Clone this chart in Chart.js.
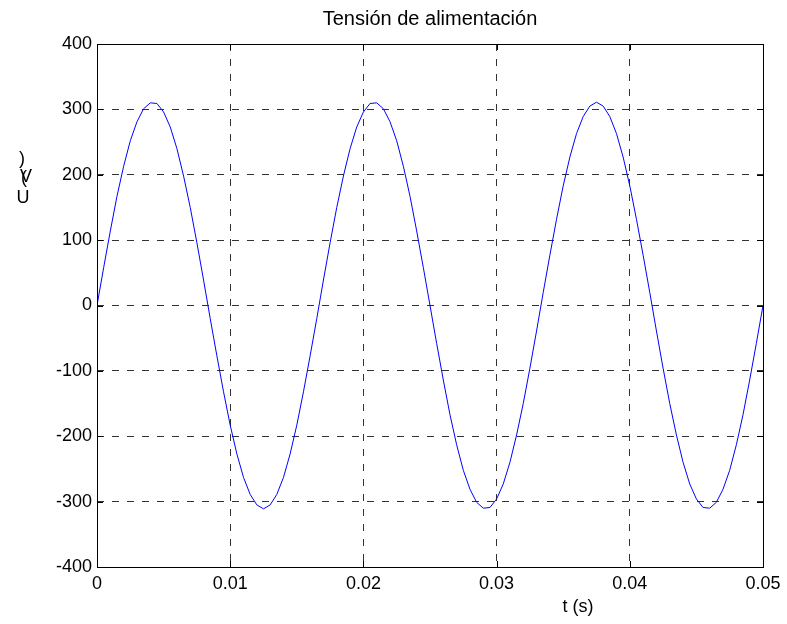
<!DOCTYPE html>
<html>
<head>
<meta charset="utf-8">
<script src="https://cdn.jsdelivr.net/npm/chart.js@4/dist/chart.umd.min.js"></script>
<style>
  html, body { margin: 0; padding: 0; background: #fff; }
  #wrap { width: 787px; height: 624px; }
</style>
</head>
<body>
<div id="wrap"><canvas id="tensionChart" width="787" height="624"></canvas></div>
<script>
// values
const titleText = 'Tensión de alimentación';
const xLabel = 't (s)';
const yLabelChars = ['U', '(', 'V', ')'];

const xTicks = [0, 0.01, 0.02, 0.03, 0.04, 0.05];
const xTickLabels = ['0', '0.01', '0.02', '0.03', '0.04', '0.05'];
const yTicks = [-400, -300, -200, -100, 0, 100, 200, 300, 400];
const yTickLabels = ['-400', '-300', '-200', '-100', '0', '100', '200', '300', '400'];

const times = [
  0, 0.0005, 0.001, 0.0015, 0.002, 0.0025, 0.003, 0.0035, 0.004, 0.0045,
  0.005, 0.0055, 0.006, 0.0065, 0.007, 0.0075, 0.008, 0.0085, 0.009, 0.0095,
  0.01, 0.0105, 0.011, 0.0115, 0.012, 0.0125, 0.013, 0.0135, 0.014, 0.0145,
  0.015, 0.0155, 0.016, 0.0165, 0.017, 0.0175, 0.018, 0.0185, 0.019, 0.0195,
  0.02, 0.0205, 0.021, 0.0215, 0.022, 0.0225, 0.023, 0.0235, 0.024, 0.0245,
  0.025, 0.0255, 0.026, 0.0265, 0.027, 0.0275, 0.028, 0.0285, 0.029, 0.0295,
  0.03, 0.0305, 0.031, 0.0315, 0.032, 0.0325, 0.033, 0.0335, 0.034, 0.0345,
  0.035, 0.0355, 0.036, 0.0365, 0.037, 0.0375, 0.038, 0.0385, 0.039, 0.0395,
  0.04, 0.0405, 0.041, 0.0415, 0.042, 0.0425, 0.043, 0.0435, 0.044, 0.0445,
  0.045, 0.0455, 0.046, 0.0465, 0.047, 0.0475, 0.048, 0.0485, 0.049, 0.0495,
  0.05
];

const volts = [
  0, 58, 114, 167, 213, 252, 281, 301, 310, 309,
  296, 273, 240, 198, 150, 96, 39, -20, -77, -132,
  -183, -227, -263, -289, -305, -311, -305, -289, -263, -227,
  -183, -132, -77, -20, 39, 96, 150, 198, 240, 273,
  296, 309, 310, 301, 281, 252, 213, 167, 114, 58,
  0, -58, -114, -167, -213, -252, -281, -301, -310, -309,
  -296, -273, -240, -198, -150, -96, -39, 20, 77, 132,
  183, 227, 263, 289, 305, 311, 305, 289, 263, 227,
  183, 132, 77, 20, -39, -96, -150, -198, -240, -273,
  -296, -309, -310, -301, -281, -252, -213, -167, -114, -58,
  0
];

const FONT = '"Liberation Sans", Arial, Helvetica, sans-serif';

// frame, inward ticks and the text around the axes (MATLAB style)
const frame = {
  id: 'frame',
  afterDraw(chart) {
    const ctx = chart.ctx;
    const a = chart.chartArea;
    const xs = chart.scales.x, ys = chart.scales.y;
    ctx.save();
    ctx.strokeStyle = '#000';
    ctx.lineWidth = 1;
    ctx.setLineDash([]);
    ctx.strokeRect(Math.round(a.left) + 0.5, Math.round(a.top) + 0.5,
      Math.round(a.right - a.left), Math.round(a.bottom - a.top));
    ctx.beginPath();
    xTicks.forEach(v => {
      const px = Math.round(xs.getPixelForValue(v)) + 0.5;
      ctx.moveTo(px, a.bottom); ctx.lineTo(px, a.bottom - 6);
      ctx.moveTo(px, a.top); ctx.lineTo(px, a.top + 6);
    });
    yTicks.forEach(v => {
      const py = Math.round(ys.getPixelForValue(v)) + 0.5;
      ctx.moveTo(a.left, py); ctx.lineTo(a.left + 6, py);
      ctx.moveTo(a.right, py); ctx.lineTo(a.right - 6, py);
    });
    ctx.stroke();

    ctx.fillStyle = '#000';
    ctx.textAlign = 'center';
    ctx.textBaseline = 'middle';
    ctx.font = '20px ' + FONT;
    ctx.fillText(titleText, (a.left + a.right) / 2, 19);
    ctx.font = '18px ' + FONT;
    ctx.fillText(xLabel, 578, 607);
    // the y label comes out as stacked glyphs in the reference
    ctx.fillText(yLabelChars[0], 23, 198);
    ctx.fillText(yLabelChars[1], 24, 178);
    ctx.fillText(yLabelChars[2], 26, 177);
    ctx.fillText(yLabelChars[3], 22, 159);
    ctx.restore();
  }
};

const ctx = document.getElementById('tensionChart').getContext('2d');
const chart = new Chart(ctx, {
  type: 'line',
  data: {
    datasets: [{
      label: 'U',
      data: times.map((t, i) => ({ x: t, y: volts[i] })),
      borderColor: '#0000ff',
      borderWidth: 1,
      pointRadius: 0,
      tension: 0,
      fill: false
    }]
  },
  options: {
    responsive: false,
    animation: false,
    layout: { padding: { top: 44, right: 24, left: 0, bottom: 0 } },
    plugins: { legend: { display: false }, title: { display: false }, tooltip: { enabled: false } },
    scales: {
      x: {
        type: 'linear',
        min: 0,
        max: 0.05,
        afterBuildTicks: s => { s.ticks = xTicks.map(v => ({ value: v })); },
        afterFit: s => { s.height = 57; },
        ticks: {
          color: '#000',
          font: { family: FONT, size: 18 },
          padding: 6,
          maxRotation: 0,
          callback: (v, i) => xTickLabels[i]
        },
        grid: { color: '#333', lineWidth: 1, drawTicks: false },
        border: { display: false, dash: [7, 8] }
      },
      y: {
        type: 'linear',
        min: -400,
        max: 400,
        afterBuildTicks: s => { s.ticks = yTicks.map(v => ({ value: v })); },
        afterFit: s => { s.width = 97; },
        ticks: {
          color: '#000',
          font: { family: FONT, size: 18 },
          padding: 5,
          callback: (v, i) => yTickLabels[i]
        },
        grid: { color: '#333', lineWidth: 1, drawTicks: false },
        border: { display: false, dash: [7, 8] }
      }
    }
  },
  plugins: [frame]
});
</script>
</body>
</html>
